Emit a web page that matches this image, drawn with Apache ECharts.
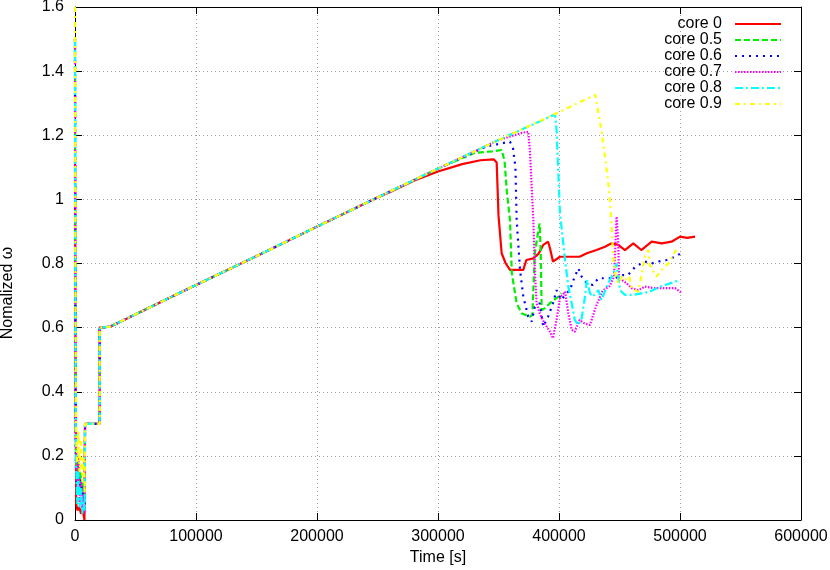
<!DOCTYPE html>
<html>
<head>
<meta charset="utf-8">
<script src="https://cdn.jsdelivr.net/npm/echarts@6/dist/echarts.min.js"></script>
<style>html,body{margin:0;padding:0;background:#fff}#c{width:830px;height:570px}</style>
</head>
<body>
<div id="c"></div>
<script>
// ---- data ----
const seriesNames = ['core 0', 'core 0.5', 'core 0.6', 'core 0.7', 'core 0.8', 'core 0.9'];
const xTicks = [0, 100000, 200000, 300000, 400000, 500000, 600000];
const yTicks = [0, 0.2, 0.4, 0.6, 0.8, 1, 1.2, 1.4, 1.6];

// initial transient (x < 8000 s) per series
const startCore0  = [[0,1.12],[500,0.4],[1000,0.05],[2000,0.03],[3500,0.04],[5000,0.02],[6500,0.03],[7800,0.0],[8300,0.0]];
const startCore05 = [[0,1.5],[300,0.6],[800,0.2],[1500,0.12],[2500,0.18],[3500,0.1],[4500,0.15],[5500,0.08],[6500,0.12],[7500,0.05],[8000,0.1]];
const startCore06 = [[0,1.5],[300,0.5],[800,0.15],[1800,0.1],[2800,0.17],[3800,0.09],[5000,0.13],[6000,0.06],[7000,0.1],[8000,0.05]];
const startCore07 = [[0,1.5],[300,0.5],[800,0.25],[1800,0.1],[2800,0.2],[3800,0.05],[5000,0.12],[6000,0.03],[7000,0.08],[8000,0.02]];
const startCore08 = [[0,1.5],[300,0.6],[800,0.2],[1800,0.05],[2800,0.15],[3800,0.04],[5000,0.1],[6000,0.02],[7000,0.06],[8000,0.03]];
const startCore09 = [[0,1.6],[300,0.8],[800,0.3],[1800,0.18],[2800,0.28],[3800,0.15],[5000,0.25],[6000,0.12],[7000,0.2],[8000,0.08]];

// shared steps and linear ramp
const commonRamp = [[8300,0.3],[20400,0.3],[20400,0.6],[29000,0.603],[60000,0.66],[100000,0.733],[150000,0.823],[200000,0.915],[250000,1.006]];

// per-series behaviour after the ramp
const tailCore0 = [[260000,1.022],[280000,1.058],[300000,1.087],[320000,1.11],[335000,1.122],[346000,1.125],[348500,1.115],[350000,0.95],[352600,0.832],[356000,0.8],[359500,0.78],[370500,0.78],[373000,0.811],[378800,0.816],[383000,0.83],[387000,0.858],[391000,0.868],[392600,0.847],[395000,0.806],[400800,0.821],[411800,0.821],[417000,0.821],[423000,0.832],[431000,0.842],[438000,0.852],[443500,0.863],[449000,0.858],[454500,0.842],[461400,0.863],[468000,0.842],[476600,0.868],[485000,0.863],[493000,0.868],[500000,0.884],[506000,0.88],[512400,0.884]];
const tailCore05 = [[300000,1.096],[330000,1.145],[345000,1.15],[352600,1.154],[355000,1.12],[357000,1.02],[359500,0.936],[361000,0.77],[365000,0.676],[369000,0.645],[376000,0.634],[378000,0.64],[380000,0.832],[383000,0.905],[384000,0.925],[384900,0.832],[385700,0.655],[388000,0.66],[394000,0.681],[399500,0.697],[402000,0.707]];
const tailCore06 = [[300000,1.096],[340000,1.165],[359500,1.18],[362000,1.159],[364000,1.1],[365000,0.936],[367800,0.78],[370500,0.697],[374600,0.634],[377400,0.619],[380000,0.665],[384000,0.676],[387000,0.603],[391000,0.634],[395000,0.676],[398000,0.717],[402000,0.686],[405000,0.702],[409000,0.717],[413000,0.759],[416000,0.785],[418700,0.759],[423000,0.738],[428000,0.733],[432500,0.754],[438000,0.754],[446000,0.754],[451800,0.764],[457000,0.764],[463000,0.79],[471000,0.806],[476600,0.8],[482000,0.806],[489000,0.811],[496000,0.821],[500800,0.832]];
const tailCore07 = [[300000,1.096],[350000,1.185],[370000,1.208],[374600,1.211],[376000,1.15],[378800,0.936],[380000,0.78],[381500,0.676],[384000,0.645],[388000,0.613],[392600,0.587],[395000,0.567],[398000,0.624],[400800,0.692],[405000,0.712],[407700,0.645],[410500,0.593],[413000,0.587],[417000,0.624],[421000,0.613],[425600,0.608],[430000,0.66],[436000,0.715],[442000,0.73],[445500,0.76],[447600,0.946],[449000,0.863],[449600,0.749],[451800,0.749],[456000,0.738],[460000,0.723],[465500,0.717],[471000,0.728],[479000,0.723],[487600,0.723],[496000,0.723],[500800,0.71]];
const tailCore08 = [[300000,1.096],[350000,1.185],[396700,1.265],[398000,1.216],[400800,0.957],[405000,0.811],[407700,0.728],[410500,0.676],[413000,0.624],[416000,0.608],[418700,0.629],[421500,0.697],[423000,0.749],[425600,0.707],[428000,0.697],[432500,0.717],[435000,0.686],[440700,0.738],[445000,0.77],[447600,0.8],[450400,0.717],[454500,0.702],[461400,0.702],[468000,0.707],[475000,0.712],[480700,0.723],[487600,0.733],[496000,0.743],[498600,0.749]];
const tailCore09 = [[300000,1.096],[350000,1.185],[400000,1.272],[430000,1.326],[435000,1.216],[438000,1.133],[440500,1.06],[442000,1.0],[443500,0.915],[445000,0.811],[447000,0.76],[449000,0.738],[452000,0.76],[455000,0.75],[458000,0.76],[460000,0.723],[465500,0.712],[468000,0.759],[471000,0.821],[474000,0.842],[475000,0.795],[478000,0.775],[480700,0.759],[483500,0.775],[487600,0.79],[491700,0.806],[496000,0.837],[497000,0.842]];

const seriesData = [
  startCore0.concat(commonRamp, tailCore0),
  startCore05.concat(commonRamp, tailCore05),
  startCore06.concat(commonRamp, tailCore06),
  startCore07.concat(commonRamp, tailCore07),
  startCore08.concat(commonRamp, tailCore08),
  startCore09.concat(commonRamp, tailCore09)
];

// ---- styles ----
const colors = ['#ff0000', '#00ee00', '#0000ff', '#ff00ff', '#00ffff', '#ffff00'];
const dashes = ['solid', [6,3], [2,5], [1.5,1.5], [8,3,2,3], [5,4,2,4]];
const FONT = 'Liberation Sans';

const chart = echarts.init(document.getElementById('c'), null, {renderer: 'canvas'});

const axisCommon = {
  type: 'value',
  axisLine: {show: true, onZero: false, lineStyle: {color: '#000', width: 1}},
  axisTick: {show: true, inside: true, length: 7, lineStyle: {color: '#000', width: 1}},
  splitLine: {show: false}
};

chart.setOption({
  animation: false,
  backgroundColor: '#fff',
  grid: {left: 75, right: 29, top: 7, bottom: 50, containLabel: false, outerBoundsMode: 'none'},
  legend: {
    data: seriesNames,
    orient: 'vertical',
    align: 'right',
    right: 48,
    top: 16,
    padding: 0,
    itemWidth: 46,
    itemHeight: 12,
    itemGap: 0,
    itemStyle: {opacity: 0, borderWidth: 0},
    textStyle: {fontFamily: FONT, fontSize: 16, color: '#000', padding: [0, 8, 0, 0]}
  },
  graphic: [{
    type: 'text',
    x: 8, y: 293,
    rotation: Math.PI / 2,
    style: {text: 'Nomalized ω', font: '16px "Liberation Sans"', fill: '#000', align: 'center', verticalAlign: 'middle'}
  }],
  xAxis: [
    Object.assign({}, axisCommon, {
      position: 'bottom', min: xTicks[0], max: xTicks[xTicks.length - 1], interval: xTicks[1] - xTicks[0],
      name: 'Time [s]', nameLocation: 'middle', nameGap: 30,
      nameTextStyle: {fontFamily: FONT, fontSize: 16, color: '#000'},
      axisLabel: {show: true, color: '#000', fontFamily: FONT, fontSize: 16, margin: 9,
        formatter: v => String(Math.round(v))},
      splitLine: {show: true, lineStyle: {color: '#a0a0a0', width: 1, type: [1, 3]}}
    }),
    Object.assign({}, axisCommon, {
      position: 'top', min: xTicks[0], max: xTicks[xTicks.length - 1], interval: xTicks[1] - xTicks[0],
      axisLabel: {show: false}
    })
  ],
  yAxis: [
    Object.assign({}, axisCommon, {
      position: 'left', min: yTicks[0], max: yTicks[yTicks.length - 1], interval: yTicks[1] - yTicks[0],
      axisLabel: {show: true, color: '#000', fontFamily: FONT, fontSize: 16, margin: 11,
        formatter: v => String(Math.round(v * 10) / 10)},
      splitLine: {show: true, lineStyle: {color: '#a0a0a0', width: 1, type: [1, 3]}}
    }),
    Object.assign({}, axisCommon, {
      position: 'right', min: yTicks[0], max: yTicks[yTicks.length - 1], interval: yTicks[1] - yTicks[0],
      axisLabel: {show: false}
    })
  ],
  series: seriesNames.map((name, i) => ({
    name: name,
    type: 'line',
    xAxisIndex: 0,
    yAxisIndex: 0,
    data: seriesData[i],
    showSymbol: false,
    symbol: 'none',
    smooth: false,
    color: colors[i],
    lineStyle: {color: colors[i], width: 2.2, type: dashes[i]},
    emphasis: {disabled: true},
    z: 2 + i
  }))
});
</script>
</body>
</html>
